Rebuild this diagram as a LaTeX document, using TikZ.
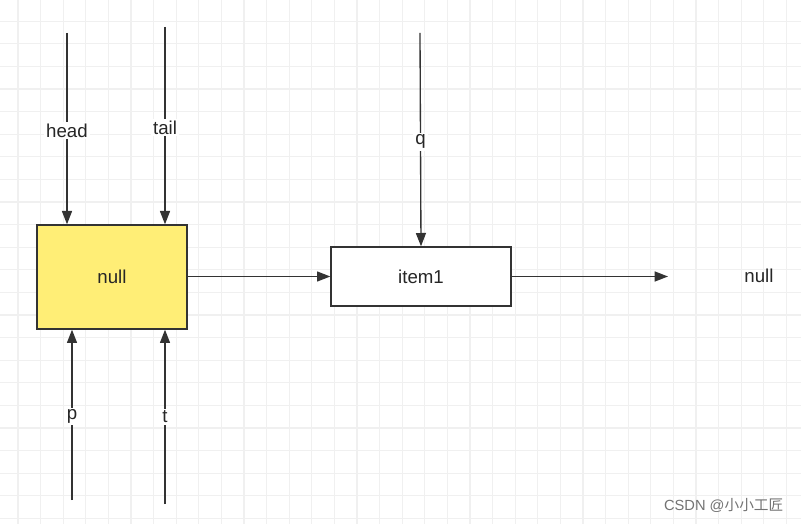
\documentclass[tikz,border=0pt]{standalone}
\usepackage{fontspec}
\setmainfont{Liberation Sans}
\newfontfamily\cjk{Noto Sans CJK SC}
\usetikzlibrary{arrows.meta}
\begin{document}
\begin{tikzpicture}[x=0.75pt,y=-0.75pt,
  box/.style={draw=black!80,line width=1pt,minimum width=150*0.75pt,minimum height=104*0.75pt,inner sep=0pt,font=\fontsize{14}{16}\selectfont,text=black!85},
  arr/.style={draw=black!80,line width=1pt,-{Triangle[length=10pt,width=7.5pt]}},
  lab/.style={fill=white,inner sep=1.5pt,font=\fontsize{14}{16}\selectfont,text=black!85}]
\useasboundingbox (0,0) rectangle (801,524);
\fill[white] (0,0) rectangle (801,524);
\foreach \i in {0,...,35} \draw[black!6,line width=1pt] (18+22.6*\i,0) -- (18+22.6*\i,524);
\foreach \i in {-9,...,14} \draw[black!6,line width=1pt] (0,202+22.6*\i) -- (801,202+22.6*\i);
\node[box,fill={rgb,255:red,255;green,238;blue,118}] (n) at (112,277) {null};
\node[box,fill=white,minimum width=180*0.75pt,minimum height=59*0.75pt] (i) at (421,276.5) {item1};
\node[lab,fill=none] (n2) at (759,276) {null};
\coordinate (h0) at (67,33); \coordinate (t0) at (165,27); \coordinate (q0) at (420,33);
\coordinate (p0) at (72,500); \coordinate (tt0) at (165,504); \coordinate (e) at (668,276.5);
\draw[arr] (h0) -- (n.north west -| h0) node[lab,pos=0.51] {head};
\draw[arr] (t0) -- (n.north west -| t0) node[lab,pos=0.51] {tail};
\draw[arr] (q0) -- (i.north) node[lab,pos=0.51] {q};
\draw[arr] (p0) -- (n.south west -| p0) node[lab,pos=0.49] {p};
\draw[arr] (tt0) -- (n.south west -| tt0) node[lab,pos=0.5] {t};
\draw[arr] (n.east |- i.west) -- (i.west);
\draw[arr] (i.east) -- (e);
\node[font=\fontsize{11}{13}\selectfont,text=black!55,anchor=east] (w) at (788,505) {CSDN @{\cjk 小小工匠}};
\end{tikzpicture}
\end{document}
